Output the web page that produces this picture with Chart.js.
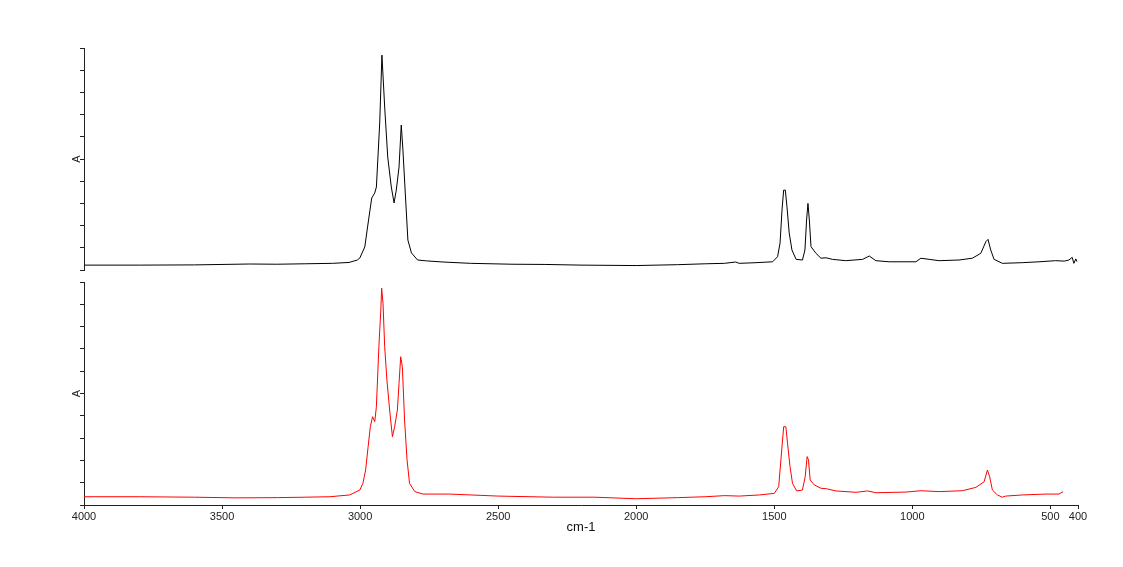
<!DOCTYPE html>
<html><head><meta charset="utf-8">
<script src="https://cdn.jsdelivr.net/npm/chart.js@4/dist/chart.umd.min.js"></script>
<style>
html,body{margin:0;padding:0;background:#fff;width:1123px;height:567px;overflow:hidden}
#c1{position:absolute;left:0;top:0}
#c2{position:absolute;left:0;top:270px}
</style></head><body>
<canvas id="c1" width="1123" height="280"></canvas>
<canvas id="c2" width="1123" height="297"></canvas>
<script>
// Wavenumber tick labels (cm-1)
const X_TICKS = [4000, 3500, 3000, 2500, 2000, 1500, 1000, 500, 400];
const Y_TICKS = [0, 1, 2, 3, 4, 5, 6, 7, 8, 9, 10];

// Top spectrum (black)
const wnBlack = [4000, 3800, 3600, 3400, 3300, 3200, 3100, 3040, 3010, 3001, 2983, 2973, 2958, 2947, 2941, 2929, 2921, 2911, 2900, 2887, 2877, 2869, 2859, 2851, 2845, 2835, 2827, 2814, 2792, 2759, 2700, 2600, 2450, 2330, 2200, 2000, 1850, 1750, 1680, 1640, 1627, 1566, 1506, 1488, 1479, 1472, 1466, 1460, 1454, 1446, 1436, 1421, 1398, 1389, 1383, 1378, 1373, 1367, 1349, 1331, 1313, 1289, 1241, 1180, 1156, 1132, 1084, 987, 969, 939, 903, 831, 783, 752, 734, 726, 716, 704, 674, 602, 541, 481, 450, 433, 421, 415, 408, 404];
const absBlack = [0.22, 0.22, 0.23, 0.27, 0.26, 0.28, 0.30, 0.34, 0.45, 0.54, 1.04, 1.94, 3.24, 3.47, 3.74, 6.62, 9.68, 7.34, 5.09, 3.74, 3.02, 3.60, 4.64, 6.53, 5.41, 3.15, 1.35, 0.77, 0.45, 0.41, 0.36, 0.30, 0.26, 0.25, 0.22, 0.20, 0.24, 0.28, 0.30, 0.36, 0.30, 0.33, 0.37, 0.60, 1.22, 2.70, 3.60, 3.60, 2.85, 1.67, 0.90, 0.48, 0.45, 0.90, 2.25, 3.00, 2.25, 1.05, 0.75, 0.53, 0.55, 0.48, 0.42, 0.48, 0.63, 0.42, 0.37, 0.37, 0.53, 0.48, 0.42, 0.45, 0.53, 0.75, 1.27, 1.38, 0.90, 0.48, 0.30, 0.33, 0.37, 0.42, 0.40, 0.45, 0.57, 0.30, 0.50, 0.38];

// Bottom spectrum (red)
const wnRed = [4000, 3800, 3600, 3450, 3300, 3200, 3110, 3038, 3001, 2990, 2980, 2971, 2963, 2955, 2947, 2941, 2932, 2925, 2922, 2917, 2911, 2903, 2893, 2883, 2875, 2865, 2859, 2853, 2847, 2839, 2830, 2821, 2802, 2772, 2676, 2500, 2300, 2150, 2000, 1850, 1750, 1680, 1627, 1554, 1500, 1484, 1476, 1466, 1458, 1452, 1443, 1434, 1419, 1398, 1388, 1381, 1376, 1370, 1355, 1331, 1311, 1277, 1204, 1162, 1132, 1023, 969, 903, 819, 770, 740, 728, 720, 710, 692, 674, 662, 602, 517, 469, 454];
const absRed = [0.37, 0.37, 0.35, 0.32, 0.33, 0.35, 0.37, 0.45, 0.67, 0.97, 1.57, 2.61, 3.51, 3.96, 3.74, 4.41, 7.10, 8.74, 9.72, 9.04, 7.10, 5.61, 4.26, 3.06, 3.51, 4.26, 5.46, 6.65, 6.20, 3.81, 2.02, 0.97, 0.60, 0.49, 0.49, 0.40, 0.35, 0.35, 0.28, 0.33, 0.37, 0.42, 0.40, 0.45, 0.52, 0.82, 2.02, 3.51, 3.51, 2.77, 1.72, 0.97, 0.63, 0.67, 1.27, 2.17, 2.02, 1.12, 0.90, 0.75, 0.73, 0.63, 0.57, 0.63, 0.55, 0.58, 0.64, 0.60, 0.64, 0.79, 1.04, 1.57, 1.27, 0.67, 0.45, 0.35, 0.40, 0.45, 0.49, 0.49, 0.60];

const FONT = "'Liberation Sans', Arial, sans-serif";
const AXIS = '#222';

function yAxis() {
  return {
    min: 0, max: 10,
    afterBuildTicks: s => { s.ticks = Y_TICKS.map(v => ({ value: v })); },
    ticks: { display: false },
    grid: { drawOnChartArea: false, drawTicks: true, tickLength: 4, color: AXIS },
    border: { color: AXIS, width: 1 },
    title: { display: true, text: 'A', font: { family: FONT, size: 11 }, color: '#222', padding: 0 },
    afterFit: s => { s.width = 14; }
  };
}

function xAxis(show) {
  return {
    type: 'linear', reverse: true, min: 400, max: 4000, display: show,
    afterBuildTicks: s => { s.ticks = X_TICKS.map(v => ({ value: v })); },
    ticks: { font: { family: FONT, size: 11 }, color: '#222', padding: 1, maxRotation: 0, autoSkip: false, callback: v => String(v) },
    grid: { drawOnChartArea: false, drawTicks: true, tickLength: 4, color: AXIS },
    border: { color: AXIS, width: 1 },
    title: { display: true, text: 'cm-1', font: { family: FONT, size: 13 }, color: '#111', padding: { top: 10, bottom: 10 } },
    afterFit: s => { s.height = show ? 40 : 0; }
  };
}

function makeChart(id, wn, ab, color, showX, pad) {
  return new Chart(document.getElementById(id), {
    type: 'line',
    data: {
      datasets: [{
        data: wn.map((w, i) => ({ x: w, y: ab[i] })),
        borderColor: color, borderWidth: 1, pointRadius: 0, tension: 0, fill: false
      }]
    },
    options: {
      responsive: false, animation: false,
      layout: { padding: pad },
      plugins: { legend: { display: false }, tooltip: { enabled: false } },
      scales: { x: xAxis(showX), y: yAxis() }
    }
  });
}

makeChart('c1', wnBlack, absBlack, '#000000', false, { left: 70, right: 45, top: 48, bottom: 10 });
makeChart('c2', wnRed, absRed, '#ff0000', true, { left: 70, right: 45, top: 12, bottom: 22 });
</script>
</body></html>
